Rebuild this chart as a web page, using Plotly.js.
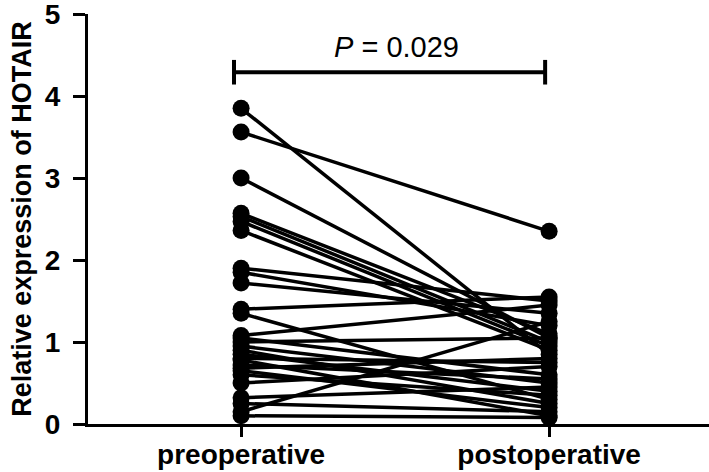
<!DOCTYPE html>
<html>
<head>
<meta charset="utf-8">
<script src="https://cdn.plot.ly/plotly-3.0.1.min.js"></script>
<style>
  html, body { margin: 0; padding: 0; background: #fff; }
  #myPlot { width: 709px; height: 472px; }
</style>
</head>
<body>
<div id="myPlot"></div>
<script>
// paired HOTAIR expression, same patient before / after surgery
var groups = ["preoperative", "postoperative"];
var preValues  = [3.85, 3.56, 3.00, 2.57, 2.53, 2.47, 2.36, 1.90, 1.85, 1.72, 1.40, 1.35, 1.08, 1.05, 1.00,
                  0.95, 0.90, 0.85, 0.80, 0.78, 0.72, 0.68, 0.65, 0.60, 0.50, 0.32, 0.25, 0.15, 0.10];
var postValues = [0.85, 2.35, 1.05, 1.10, 1.00, 0.95, 0.90, 1.50, 1.20, 1.35, 1.55, 0.30, 1.45, 0.60, 1.05,
                  0.50, 0.25, 0.40, 0.75, 0.10, 0.55, 0.80, 0.20, 0.35, 0.70, 0.45, 0.15, 1.25, 0.08];
var yTicks = [0, 1, 2, 3, 4, 5];
var pText = "<i>P</i> = 0.029";

var data = [];
for (var i = 0; i < preValues.length; i++) {
  data.push({
    x: [0, 1],
    y: [preValues[i], postValues[i]],
    mode: "lines+markers",
    line: {color: "#000", width: 3.5},
    marker: {color: "#000", size: 17},
    cliponaxis: false,
    hoverinfo: "skip",
    showlegend: false
  });
}

var font = {family: "Liberation Sans, Arial, sans-serif", color: "#000"};

var layout = {
  width: 709,
  height: 472,
  margin: {l: 88, r: 0, t: 14, b: 48},
  paper_bgcolor: "#fff",
  plot_bgcolor: "#fff",
  font: font,
  xaxis: {
    range: [-0.497, 1.519],
    tickvals: [0, 1],
    ticktext: groups.map(function (g) { return "<b>" + g + "</b>"; }),
    tickfont: {family: font.family, size: 28, color: "#000"},
    ticklabeloverflow: "allow",
    ticklabelstandoff: -7,
    showgrid: false, zeroline: false,
    showline: true, linecolor: "#000", linewidth: 3,
    ticks: "outside", ticklen: 10, tickwidth: 3, tickcolor: "#000"
  },
  yaxis: {
    range: [0, 5],
    tickvals: yTicks,
    ticktext: yTicks.map(function (v) { return "<b>" + v + "</b>"; }),
    tickfont: {family: font.family, size: 28, color: "#000"},
    ticklabeloverflow: "allow",
    ticklabelstandoff: 7,
    title: {text: "<b>Relative expression of HOTAIR</b>", font: {family: font.family, size: 27, color: "#000"}, standoff: 6},
    showgrid: false, zeroline: false,
    showline: true, linecolor: "#000", linewidth: 3,
    ticks: "outside", ticklen: 12, tickwidth: 3, tickcolor: "#000"
  },
  shapes: [
    {type: "line", xref: "x", yref: "y", x0: -0.023, x1: 0.987, y0: 4.29, y1: 4.29, line: {color: "#000", width: 4}},
    {type: "line", xref: "x", yref: "y", x0: -0.023, x1: -0.023, y0: 4.14, y1: 4.44, line: {color: "#000", width: 4}},
    {type: "line", xref: "x", yref: "y", x0: 0.987, x1: 0.987, y0: 4.14, y1: 4.44, line: {color: "#000", width: 4}}
  ],
  annotations: [
    {xref: "x", yref: "y", x: 0.506, y: 4.6, text: pText, showarrow: false,
     font: {family: font.family, size: 29, color: "#000"}}
  ]
};

Plotly.newPlot("myPlot", data, layout, {displayModeBar: false, staticPlot: true});
</script>
</body>
</html>
